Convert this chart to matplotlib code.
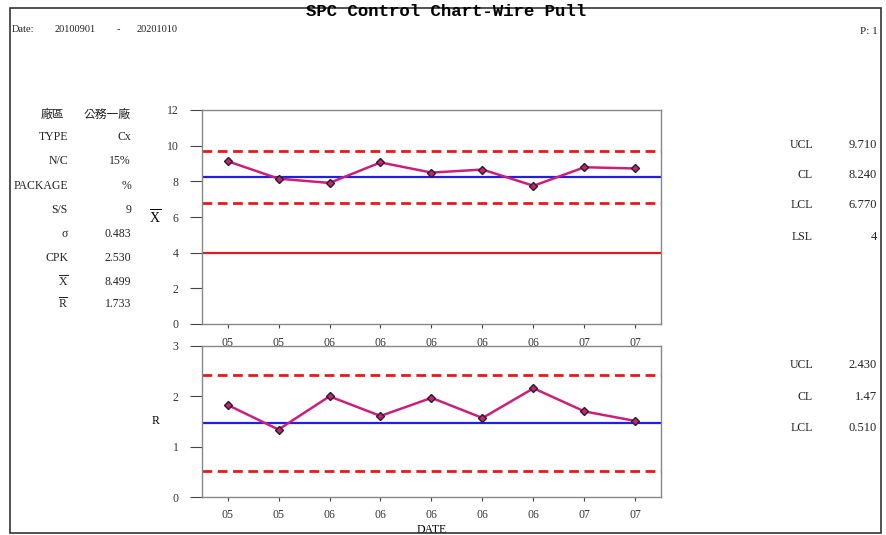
import matplotlib
matplotlib.use("Agg")
import matplotlib.pyplot as plt
from matplotlib.patches import Rectangle
import numpy as np

plt.rcParams['font.family'] = ['Liberation Serif', 'Noto Sans CJK TC', 'DejaVu Sans']
plt.rcParams['mathtext.fontset'] = 'custom'
plt.rcParams['mathtext.rm'] = 'Liberation Serif'
plt.rcParams['mathtext.it'] = 'Liberation Serif:italic'

# ---- data ----
dates = ["05", "05", "06", "06", "06", "06", "06", "07", "07"]
xbar_values = [9.13, 8.15, 7.91, 9.06, 8.49, 8.66, 7.75, 8.79, 8.72]
r_values = [1.83, 1.34, 2.00, 1.61, 1.97, 1.57, 2.16, 1.70, 1.51]
xbar_ucl, xbar_cl, xbar_lcl, xbar_lsl = 9.710, 8.240, 6.770, 4
r_ucl, r_cl, r_lcl = 2.430, 1.47, 0.510
xbar_ticks = [0, 2, 4, 6, 8, 10, 12]
r_ticks = [0, 1, 2, 3]
info_labels = ["廠區", "TYPE", "N/C", "PACKAGE", "S/S", "σ", "CPK", r"$\overline{\mathrm{X}}$", r"$\overline{\mathrm{R}}$"]
info_values = ["公務一廠", "Cx", "15%", "%", "9", "0.483", "2.530", "8.499", "1.733"]
xbar_limit_labels = ["UCL", "CL", "LCL", "LSL"]
xbar_limit_values = ["9.710", "8.240", "6.770", "4"]
r_limit_labels = ["UCL", "CL", "LCL"]
r_limit_values = ["2.430", "1.47", "0.510"]

W, H = 886, 535
fig = plt.figure(figsize=(W / 100, H / 100), dpi=100)
fig.patch.set_facecolor("white")

def px(x, y):
    return x / W, 1 - y / H

def ftext(x, y, s, **kw):
    kw.setdefault("fontsize", 8.5)
    kw.setdefault("va", "center")
    kw.setdefault("color", "#222222")
    fig.text(*px(x, y), s, **kw)

# frame
fig.add_artist(Rectangle(px(10, 533), (881 - 10) / W, (533 - 8) / H,
                         transform=fig.transFigure, fill=False,
                         edgecolor="#333333", linewidth=1.2))

LINE_C = "#cc1f7a"
BLUE = "#1f1fe6"
RED = "#e8191e"
SPINE_C = "#888888"

def style_axes(ax, ticks, labels):
    ax.set_xlim(-0.5, len(dates) - 0.5)
    ax.set_xticks(np.arange(len(dates)))
    ax.set_xticklabels(labels)
    ax.set_yticks(ticks)
    for s in ax.spines.values():
        s.set_color(SPINE_C)
        s.set_linewidth(1.0)
    ax.tick_params(axis="both", colors="#444444", labelcolor="#333333",
                   labelsize=8.5, width=0.8)
    ax.tick_params(axis="y", length=9, pad=8)
    ax.tick_params(axis="x", length=3, pad=6)

x = np.arange(len(dates))

# X-bar chart
ax1 = fig.add_axes([202 / W, 1 - 324 / H, 459 / W, 214 / H])
ax1.axhline(xbar_ucl, color=RED, linestyle=(0, (3.5, 2)), linewidth=2.0)
ax1.axhline(xbar_lcl, color=RED, linestyle=(0, (3.5, 2)), linewidth=2.0)
ax1.axhline(xbar_cl, color=BLUE, linewidth=1.6)
ax1.axhline(xbar_lsl, color=RED, linewidth=1.6)
ax1.plot(x, xbar_values, color=LINE_C, linewidth=1.8, marker="D", markersize=4.5,
         markerfacecolor=LINE_C, markeredgecolor="#222222", markeredgewidth=1.0)
ax1.set_ylim(0, 12)
style_axes(ax1, xbar_ticks, dates)
ax1.set_ylabel(r"$\overline{\mathrm{X}}$", rotation=0, fontsize=10, labelpad=8, va="center")

# R chart
ax2 = fig.add_axes([202 / W, 1 - 497 / H, 459 / W, 151 / H])
ax2.axhline(r_ucl, color=RED, linestyle=(0, (3.5, 2)), linewidth=2.0)
ax2.axhline(r_lcl, color=RED, linestyle=(0, (3.5, 2)), linewidth=2.0)
ax2.axhline(r_cl, color=BLUE, linewidth=1.6)
ax2.plot(x, r_values, color=LINE_C, linewidth=1.8, marker="D", markersize=4.5,
         markerfacecolor=LINE_C, markeredgecolor="#222222", markeredgewidth=1.0)
ax2.set_ylim(0, 3)
style_axes(ax2, r_ticks, dates)
ax2.set_ylabel("R", rotation=0, fontsize=8.5, labelpad=12, va="center")
ax2.set_xlabel("DATE", fontsize=8.5, labelpad=2)

# header
fig.text(*px(446, 12), "SPC Control Chart-Wire Pull", ha="center", va="center",
         fontsize=12.5, fontweight="bold", family=["Liberation Mono", "DejaVu Sans Mono"])
ftext(12, 30, "Date:", ha="left", fontsize=7.5)
ftext(55, 30, "20100901", ha="left", fontsize=7.5)
ftext(118, 30, "-", ha="center", fontsize=7.5)
ftext(137, 30, "20201010", ha="left", fontsize=7.5)
ftext(878, 31, "P: 1", ha="right", fontsize=8)

# left info panel
rows_y = [114, 137, 161, 186, 210, 234, 258, 282, 304]
for lab, val, yy in zip(info_labels, info_values, rows_y):
    ftext(68 if lab != "廠區" else 64, yy, lab, ha="right",
          family=['Noto Sans CJK TC', 'DejaVu Serif'] if lab == "廠區" else None)
    ftext(131, yy, val, ha="right",
          family=['Noto Sans CJK TC', 'DejaVu Serif'] if val == "公務一廠" else None)

# right limit panels
for lab, val, yy in zip(xbar_limit_labels, xbar_limit_values, [145, 175, 205, 237]):
    ftext(813, yy, lab, ha="right")
    ftext(877, yy, val, ha="right", fontsize=9)
for lab, val, yy in zip(r_limit_labels, r_limit_values, [365, 397, 428]):
    ftext(813, yy, lab, ha="right")
    ftext(877, yy, val, ha="right", fontsize=9)

fig.savefig("out.png", dpi=100)
